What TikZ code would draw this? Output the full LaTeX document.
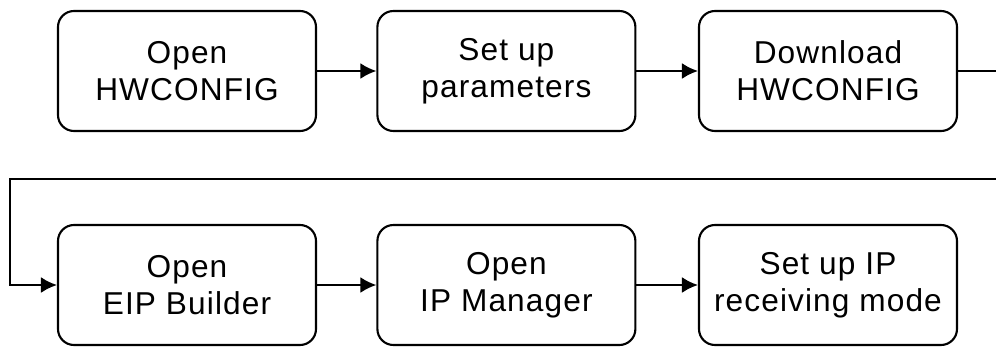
\documentclass[tikz,border=0pt]{standalone}
\usepackage{fontspec}
\setmainfont{Liberation Sans}[LetterSpace=3.5]
\usepackage{tikz}
\usetikzlibrary{arrows.meta}

\begin{document}
\begin{tikzpicture}[
  stepbox/.style={draw, line width=1.5pt, rounded corners=0.4cm, minimum width=6.45cm,
    minimum height=3cm, align=center, font=\fontsize{22.5}{26.3}\selectfont},
  flow/.style={line width=1.5pt, -{Latex[length=0.4cm,width=0.4cm]}}
]
\useasboundingbox (0,0) rectangle (24.9,8.675);

\node[stepbox] (open) at (4.675, 6.9) {Open\\HWCONFIG};
\node[stepbox] (param) at (12.66, 6.9) {Set up\\parameters};
\node[stepbox] (down) at (20.7, 6.9) {Download\\HWCONFIG};

\node[stepbox] (eip) at (4.675, 1.55) {Open\\EIP Builder};
\node[stepbox] (ipm) at (12.66, 1.55) {Open\\IP Manager};
\node[stepbox] (recv) at (20.7, 1.55) {Set up IP\\receiving mode};

\coordinate (outR) at (24.95, 6.9);
\coordinate (inR) at (24.95, 4.2);

\draw[flow] (open) -- (param);
\draw[flow] (param) -- (down);
\draw[line width=1.5pt] (down) -- (outR);
\draw[flow] (inR) -- (0.25, 4.2) |- (eip);
\draw[flow] (eip) -- (ipm);
\draw[flow] (ipm) -- (recv);
\end{tikzpicture}
\end{document}
